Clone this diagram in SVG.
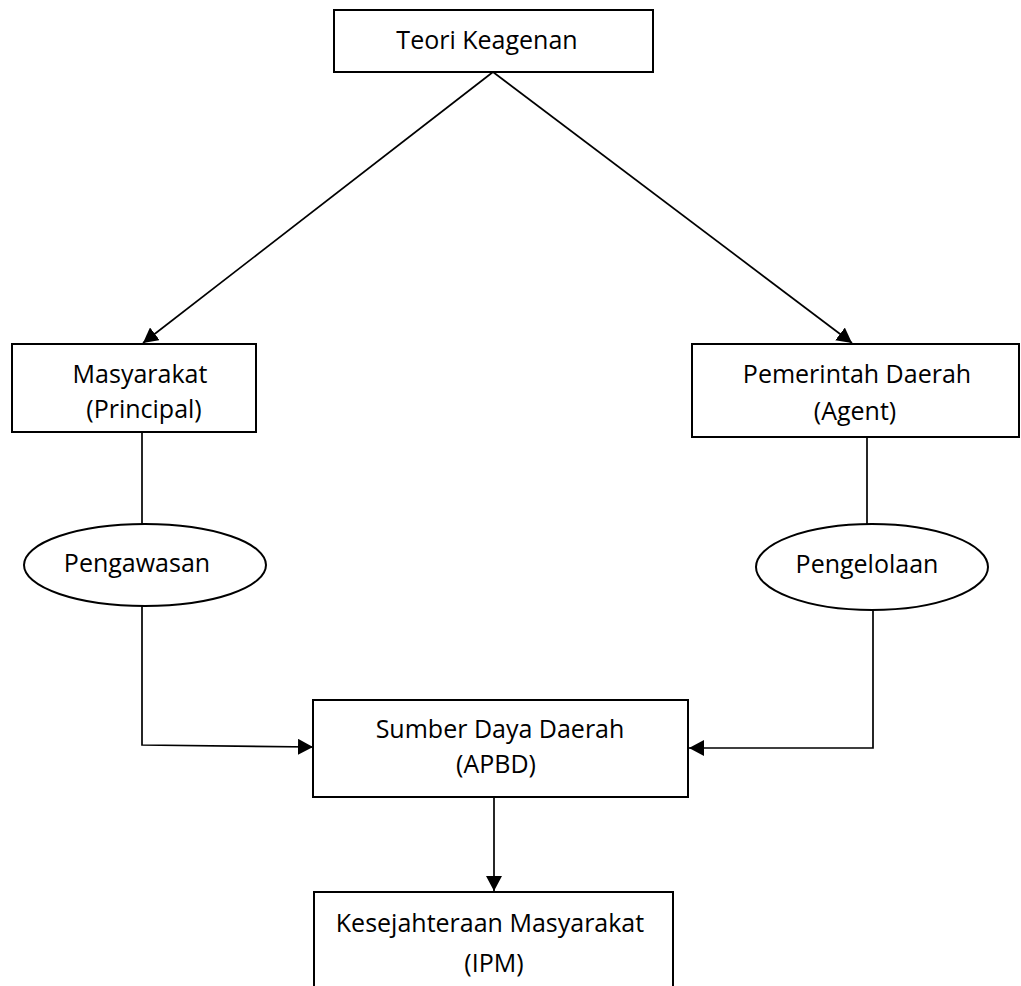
<svg xmlns="http://www.w3.org/2000/svg" width="1021" height="986" viewBox="0 0 1021 986">
<defs>
<marker id="arr" markerWidth="16" markerHeight="16" refX="15" refY="8" orient="auto" markerUnits="userSpaceOnUse">
<path d="M0,0 L15,8 L0,16 Z" fill="#000"/>
</marker>
<style>
.box{fill:#fff;stroke:#000;stroke-width:2}
.ln{fill:none;stroke:#000;stroke-width:1.7}
.t{font-family:"Open Sans","Liberation Sans",sans-serif;font-size:25px;fill:#000;text-anchor:middle}
</style>
</defs>
<rect width="1021" height="986" fill="#fff"/>
<g id="connectors">
<line class="ln" x1="493" y1="72" x2="143" y2="343" marker-end="url(#arr)"/>
<line class="ln" x1="493" y1="72" x2="852" y2="343" marker-end="url(#arr)"/>
<line class="ln" x1="142" y1="432" x2="142" y2="524"/>
<line class="ln" x1="867" y1="437" x2="867" y2="524"/>
<polyline class="ln" points="142,606 142,745 313,747" marker-end="url(#arr)"/>
<polyline class="ln" points="873,611 873,748 689,748" marker-end="url(#arr)"/>
<line class="ln" x1="494" y1="797" x2="494" y2="891" marker-end="url(#arr)"/>
</g>
<g id="teori">
<rect class="box" x="334" y="10" width="319" height="62"/>
<text class="t" x="487" y="49">Teori Keagenan</text>
</g>
<g id="masyarakat">
<rect class="box" x="12" y="344" width="244" height="88"/>
<text class="t" x="140" y="383">Masyarakat</text>
<text class="t" x="144" y="418">(Principal)</text>
</g>
<g id="pemerintah">
<rect class="box" x="692" y="344" width="327" height="93"/>
<text class="t" x="857" y="383">Pemerintah Daerah</text>
<text class="t" x="855" y="420">(Agent)</text>
</g>
<g id="pengawasan">
<ellipse class="box" cx="145" cy="565" rx="121" ry="41"/>
<text class="t" x="137" y="572">Pengawasan</text>
</g>
<g id="pengelolaan">
<ellipse class="box" cx="872" cy="567" rx="116" ry="43"/>
<text class="t" x="867" y="573">Pengelolaan</text>
</g>
<g id="sumber">
<rect class="box" x="313" y="700" width="375" height="97"/>
<text class="t" x="500" y="738">Sumber Daya Daerah</text>
<text class="t" x="496" y="773">(APBD)</text>
</g>
<g id="kesejahteraan">
<rect class="box" x="314" y="892" width="359" height="110"/>
<text class="t" x="490" y="932">Kesejahteraan Masyarakat</text>
<text class="t" x="494" y="972">(IPM)</text>
</g>
</svg>
